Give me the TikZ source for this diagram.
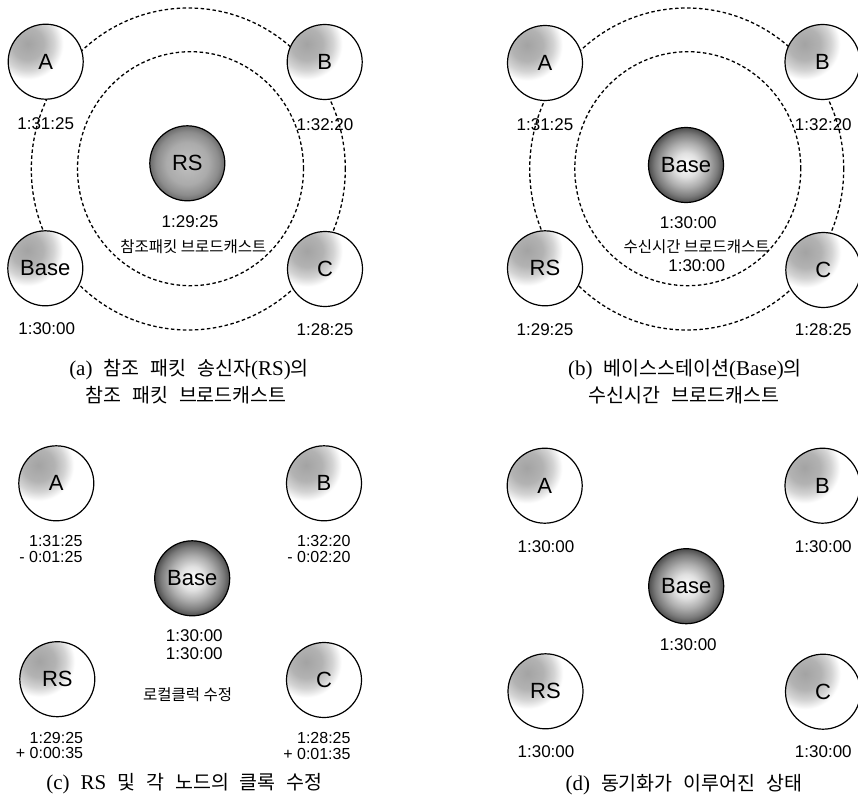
\documentclass[tikz,border=0pt]{standalone}
\usepackage{fontspec}
\usetikzlibrary{calc}
\setmainfont{Liberation Serif}
\newfontfamily\lsans{Liberation Sans}
\newfontfamily\cjk{Noto Sans CJK KR}
\newcommand\K[1]{{\cjk\fontsize{19.5}{30}\selectfont #1}}
\newcommand\kg{\hspace{11pt}}
\pgfdeclareradialshading{cornerblob}{\pgfpoint{0bp}{0bp}}{color(0bp)=(black!36); color(6bp)=(black!30); color(10bp)=(black!17); color(13.5bp)=(white); color(50bp)=(white)}
\pgfdeclareradialshading{centerball}{\pgfpoint{0bp}{0bp}}{color(0bp)=(white); color(8bp)=(black!12); color(15bp)=(black!32); color(21bp)=(black!52); color(25bp)=(black!70); color(50bp)=(black!70)}
\pgfdeclareradialshading{rsball}{\pgfpoint{0bp}{0bp}}{color(0bp)=(black!24); color(14bp)=(black!33); color(21bp)=(black!45); color(25bp)=(black!58); color(50bp)=(black!58)}
\tikzset{
  nodebase/.style={circle, draw, line width=1.2pt, minimum size=75pt, inner sep=0pt,
    font=\lsans\fontsize{22}{24}\selectfont},
  outernode/.style={nodebase, fill=white,
    path picture={\shade[shading=cornerblob]
      ($(path picture bounding box.center)+(-18pt,18pt)$) circle (66pt);}},
  ballnode/.style={nodebase, shade, shading=centerball},
  rsnode/.style={nodebase, shade, shading=rsball},
  timelbl/.style={font=\lsans\fontsize{17}{14.5}\selectfont, inner sep=0pt},
  rlbl/.style={font=\lsans\fontsize{16}{16}\selectfont, inner sep=0pt, anchor=east},
  korlbl/.style={font=\cjk\fontsize{15.5}{18}\selectfont, inner sep=0pt},
  captxt/.style={font=\fontsize{21}{30}\selectfont, inner sep=0pt},
  ring/.style={dash pattern=on 3.5pt off 2.5pt, line width=1.3pt}
}
\begin{document}
\begin{tikzpicture}[x=1pt, y=-1pt]
\useasboundingbox (0,0) rectangle (858,797);
\fill[white] (0,0) rectangle (858,797);

% ---------- panel (a) ----------
\coordinate (ao) at (188.3,169);
\coordinate (ai) at (190.5,168.7);
\draw[ring] (ao) ellipse [x radius=157pt, y radius=161pt];
\draw[ring] (ai) ellipse [x radius=113pt, y radius=117pt];
\node[outernode] (aA) at (45.7,61.7) {A};
\node[outernode] (aB) at (324.7,62) {B};
\node[rsnode] (aRS) at (187.3,163.3) {RS};
\node[outernode] (aBase) at (45.3,268.3) {Base};
\node[outernode] (aC) at (325,269) {C};
\node[timelbl] (atA) at (45.7,123.3) {1:31:25};
\node[timelbl] (atB) at (325,125) {1:32:20};
\node[timelbl] (atRS) at (190,221.7) {1:29:25};
\node[korlbl] (ak) at (193.3,246.7) {참조패킷 브로드캐스트};
\node[timelbl] (atBase) at (46.7,328.3) {1:30:00};
\node[timelbl] (atC) at (325,330) {1:28:25};
\node[captxt] (capa1) at (189,370) {(a)\kg\K{참조}\kg\K{패킷}\kg\K{송신자}(RS)\K{의}};
\node[captxt] (capa2) at (186,395) {\K{참조}\kg\K{패킷}\kg\K{브로드캐스트}};

% ---------- panel (b) ----------
\coordinate (bo) at (686.7,169);
\coordinate (bi) at (687.8,168.7);
\draw[ring] (bo) ellipse [x radius=157pt, y radius=161pt];
\draw[ring] (bi) ellipse [x radius=113pt, y radius=117pt];
\node[outernode] (bA) at (545,63) {A};
\node[outernode] (bB) at (822.5,62) {B};
\node[ballnode] (bBase) at (686,165) {Base};
\node[outernode] (bRS) at (545,268.3) {RS};
\node[outernode] (bC) at (823.3,270) {C};
\node[timelbl] (btA) at (545,125) {1:31:25};
\node[timelbl] (btB) at (823.3,125) {1:32:20};
\node[timelbl] (btBase) at (688.3,222.7) {1:30:00};
\node[korlbl] (bk) at (696.7,246.7) {수신시간 브로드캐스트};
\node[timelbl] (btBase2) at (696.7,265.7) {1:30:00};
\node[timelbl] (btRS) at (545,330) {1:29:25};
\node[timelbl] (btC) at (823.3,330) {1:28:25};
\node[captxt] (capb1) at (685,370) {(b)\kg\K{베이스스테이션}(Base)\K{의}};
\node[captxt] (capb2) at (684,395) {\K{수신시간}\kg\K{브로드캐스트}};

% ---------- panel (c) ----------
\node[outernode] (cA) at (56.3,483.3) {A};
\node[outernode] (cB) at (324,483.3) {B};
\node[ballnode] (cBase) at (192.2,578.3) {Base};
\node[outernode] (cRS) at (57.3,679.2) {RS};
\node[outernode] (cC) at (324,680) {C};
\node[rlbl] (ctA1) at (82.7,541) {1:31:25};
\node[rlbl] (ctA2) at (82.7,556.5) {- 0:01:25};
\node[rlbl] (ctB1) at (350.7,541) {1:32:20};
\node[rlbl] (ctB2) at (350.7,556.5) {- 0:02:20};
\node[timelbl] (ctBase1) at (194.3,636) {1:30:00};
\node[timelbl] (ctBase2) at (194.3,653.3) {1:30:00};
\node[korlbl] (ck) at (187.7,695) {로컬클럭 수정};
\node[rlbl] (ctRS1) at (83.3,737.5) {1:29:25};
\node[rlbl] (ctRS2) at (83.3,753) {+ 0:00:35};
\node[rlbl] (ctC1) at (350.7,738) {1:28:25};
\node[rlbl] (ctC2) at (350.7,753.5) {+ 0:01:35};
\node[captxt] (capc) at (184.5,783.3) {(c)\kg RS\kg\K{및}\kg\K{각}\kg\K{노드의}\kg\K{클록}\kg\K{수정}};

% ---------- panel (d) ----------
\node[outernode] (dA) at (544.7,485.7) {A};
\node[outernode] (dB) at (822.5,485.7) {B};
\node[ballnode] (dBase) at (686.2,586.2) {Base};
\node[outernode] (dRS) at (545.5,691.3) {RS};
\node[outernode] (dC) at (823,691.7) {C};
\node[timelbl] (dtA) at (546,546.7) {1:30:00};
\node[timelbl] (dtB) at (823.3,546.7) {1:30:00};
\node[timelbl] (dtBase) at (688.3,645) {1:30:00};
\node[timelbl] (dtRS) at (546,751.7) {1:30:00};
\node[timelbl] (dtC) at (823.3,751.7) {1:30:00};
\node[captxt] (capd) at (684,785) {(d)\kg\K{동기화가}\kg\K{이루어진}\kg\K{상태}};
\end{tikzpicture}
\end{document}
